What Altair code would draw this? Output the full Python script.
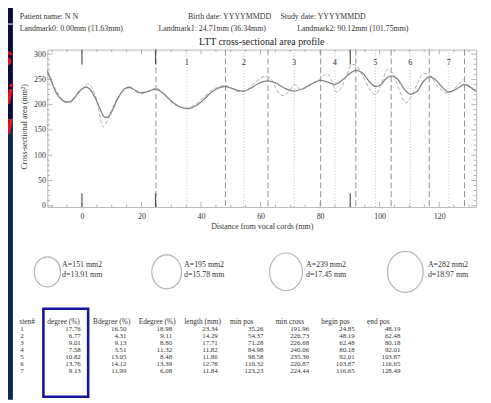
import altair as alt
import pandas as pd

# ---------------- data ----------------
smooth_mm = [-11.6, -10, -8.5, -7, -5.5, -4, -2.5, -1, 0.5, 1.5, 3, 4.5, 6, 7.5, 8.5, 10, 11.5, 13, 14.5, 16,
             17.5, 19.5, 21.5, 23, 24.8, 26.5, 28.5, 30.5, 32.5, 35.3, 38, 40.5, 43, 45.5, 48, 50, 52, 54.4, 56.5, 59,
             62.4, 65, 68, 71.3, 74, 77, 80.2, 82.5, 85, 87.5, 90, 92, 94.5, 96.5, 98.6, 100.5, 102, 103.9, 106, 108,
             110.3, 112.5, 114.5, 116.6, 118.5, 120.5, 123.2, 125.5, 128.5, 130.5, 132.3]
smooth_area = [266, 242, 222, 211, 205, 206, 214, 226, 233, 235, 228, 213, 193, 176, 175, 186, 206, 222, 232, 234,
               230, 224, 225, 228, 231, 226, 216, 205, 197, 192, 197, 208, 222, 232, 236, 233, 229, 227, 232, 241,
               247, 243, 233, 227, 231, 241, 248, 245, 240, 249, 262, 268, 261, 246, 236, 240, 251, 257, 251, 233,
               221, 226, 244, 255, 251, 238, 225, 230, 240, 234, 226]

raw_mm = [-11.6, -9, -6, -4, -2, 0, 1.8, 3.5, 5, 6.5, 7.2, 8.5, 10, 12, 14, 15.8, 18, 20, 22.5, 25,
          27, 30, 33, 35.3, 38, 41, 44, 48, 50.5, 52.5, 55, 58, 61.5, 63.5, 65.5, 67.5, 69.5, 71.5, 73.5, 76,
          79, 82.5, 84, 85.5, 87, 89, 90.8, 92.5, 94.5, 96.5, 98.5, 100.5, 102.7, 104.5, 106.5, 108.8, 110.5, 112.5,
          114.8, 117, 119, 121, 122.5, 124.5, 126.5, 128, 130, 132.3]
raw_area = [268, 232, 208, 204, 216, 230, 241, 232, 208, 165, 156, 168, 190, 213, 228, 236, 226, 222, 227, 233,
            224, 205, 195, 193, 200, 215, 230, 238, 232, 226, 228, 243, 256, 251, 228, 218, 226, 240, 230, 236,
            247, 261, 245, 225, 232, 260, 280, 275, 255, 232, 220, 240, 270, 262, 230, 204, 215, 240,
            262, 258, 240, 228, 223, 228, 240, 249, 238, 228]

landmarks = [0.0, 24.71, 90.12]
landmark_offset = 11.63

sten = [1, 2, 3, 4, 5, 6, 7]
degree = [17.76, 6.77, 9.01, 7.58, 10.82, 13.76, 9.13]
bdegree = [16.50, 4.31, 9.13, 3.51, 13.05, 14.12, 11.99]
edegree = [18.98, 9.11, 8.80, 11.32, 8.48, 13.39, 6.08]
length_mm = [23.34, 14.29, 17.71, 11.82, 11.86, 12.78, 11.84]
min_pos = [35.26, 54.37, 71.28, 84.98, 98.58, 110.32, 123.23]
min_cross = [191.96, 226.73, 226.68, 240.06, 235.36, 220.87, 224.44]
begin_pos = [24.85, 48.19, 62.48, 80.18, 92.01, 103.87, 116.65]
end_pos = [48.19, 62.48, 80.18, 92.01, 103.87, 116.65, 128.49]

ref_area = [151, 195, 239, 282]
ref_diam = [13.91, 15.78, 17.45, 18.97]

x_major = [0, 20, 40, 60, 80, 100, 120]
x_minor = [-10, -5, 5, 10, 15, 25, 30, 35, 45, 50, 55, 65, 70, 75, 85, 90, 95, 105, 110, 115, 125, 130]
y_major = [0, 50, 100, 150, 200, 250, 300]
y_minor = [10, 20, 30, 40, 60, 70, 80, 90, 110, 120, 130, 140, 160, 170, 180, 190,
           210, 220, 230, 240, 260, 270, 280, 290]

# ---------------- layout ----------------
FONT = "Liberation Serif"
W, H = 436, 160
PADL, PADT = 40, 39
PADR, PADB = 491 - 8 - PADL - W, 403 - 8 - PADT - H


def px(page_x):
    return page_x - 8 - PADL


def py(page_y):
    return page_y - 8 - PADT


one = pd.DataFrame({"k": [0]})

xs = alt.Scale(domain=[-11.63, 132.4], nice=False, zero=False)
ys = alt.Scale(domain=[-2.5, 309], nice=False, zero=False)

xaxis = alt.Axis(values=x_major, ticks=False, domain=False, grid=False, labelFont=FONT, labelFontSize=8,
                 labelColor="#333333", labelPadding=5.5, title="Distance from vocal cords (mm)",
                 titleFont=FONT, titleFontSize=8, titleFontWeight="normal", titleColor="#333333",
                 titleX=W / 2, titleY=20, titleBaseline="middle", titleAlign="center")
yaxis = alt.Axis(values=y_major, ticks=False, domain=False, grid=False, labelFont=FONT, labelFontSize=8,
                 labelColor="#333333", labelPadding=2, labelBaseline="middle",
                 title="Cross-sectional area (mm²)", titleFont=FONT, titleFontSize=8,
                 titleFontWeight="normal", titleColor="#333333", titleX=-23, titleY=78,
                 titleBaseline="middle", titleAlign="center")


def X(field="x"):
    return alt.X(f"{field}:Q", scale=xs, axis=xaxis)


def Y(field="y"):
    return alt.Y(f"{field}:Q", scale=ys, axis=yaxis)


df_s = pd.DataFrame({"x": smooth_mm, "y": smooth_area})
df_r = pd.DataFrame({"x": raw_mm, "y": raw_area})
df_bound = pd.DataFrame({"x": sorted(set(begin_pos + end_pos))})
df_min = pd.DataFrame({"x": min_pos, "seg": sten})
df_lm = pd.DataFrame({"x": landmarks})

tick_col = "#a0a0a0"
layers = []
for vals, ln in [(x_major, 5), (x_minor, 2.5)]:
    d = pd.DataFrame({"x": vals})
    layers.append(alt.Chart(d).mark_rule(color=tick_col, strokeWidth=0.8).encode(
        x=X(), y=alt.value(H), y2=alt.value(H - ln)))
    layers.append(alt.Chart(d).mark_rule(color=tick_col, strokeWidth=0.8).encode(
        x=X(), y=alt.value(0), y2=alt.value(ln)))
for vals, ln in [(y_major, 5), (y_minor, 2.5)]:
    d = pd.DataFrame({"y": vals})
    layers.append(alt.Chart(d).mark_rule(color=tick_col, strokeWidth=0.8).encode(
        y=Y(), x=alt.value(0), x2=alt.value(ln)))
    layers.append(alt.Chart(d).mark_rule(color=tick_col, strokeWidth=0.8).encode(
        y=Y(), x=alt.value(W), x2=alt.value(W - ln)))

layers += [
    alt.Chart(df_min).mark_rule(color="#b4b4b4", strokeWidth=0.9, strokeDash=[1, 2]).encode(x=X()),
    alt.Chart(df_bound).mark_rule(color="#8e8e8e", strokeWidth=1, strokeDash=[6, 3]).encode(x=X()),
    alt.Chart(df_lm).mark_rule(color="#555555", strokeWidth=1.2).encode(x=X(), y=alt.value(0), y2=alt.value(15)),
    alt.Chart(df_lm).mark_rule(color="#555555", strokeWidth=1.2).encode(x=X(), y=alt.value(H), y2=alt.value(H - 14)),
    alt.Chart(df_r).mark_line(color="#adadad", strokeWidth=1, strokeDash=[4, 2], interpolate="monotone").encode(x=X(), y=Y()),
    alt.Chart(df_s).mark_line(color="#858585", strokeWidth=1.3, interpolate="monotone").encode(x=X(), y=Y()),
    alt.Chart(df_min).mark_text(font=FONT, fontSize=8.5, color="#333333", baseline="middle").encode(
        x=X(), y=alt.value(13), text="seg:N"),
]
main = alt.layer(*layers)

# ---------------- slide strip on the left ----------------
bg = [
    alt.Chart(one).mark_rect(color="#0b0d3e").encode(
        x=alt.value(px(0)), x2=alt.value(px(13)), y=alt.value(py(0)), y2=alt.value(py(118))),
    alt.Chart(one).mark_rect(color="#0c2a50").encode(
        x=alt.value(px(0)), x2=alt.value(px(13)), y=alt.value(py(118)), y2=alt.value(py(403))),
    alt.Chart(one).mark_rule(color="#d8dcf4", strokeWidth=1.2).encode(
        x=alt.value(px(0)), x2=alt.value(px(13)), y=alt.value(py(21))),
    alt.Chart(one).mark_rule(color="#6f86b8", strokeWidth=1).encode(
        x=alt.value(px(0)), x2=alt.value(px(13)), y=alt.value(py(118))),
]
for txt, yy in [("s", 56), ("li", 94), ("u", 125)]:
    bg.append(alt.Chart(one).mark_text(font="Liberation Sans", fontWeight="bold", fontStyle="italic",
                                       fontSize=28, color="#e3121b", align="right").encode(
        x=alt.value(px(13)), y=alt.value(py(yy)), text=alt.value(txt)))

# ---------------- header ----------------
lm_text = [f"Landmark{i}: {v:.2f}mm ({v + landmark_offset:.2f}mm)" for i, v in enumerate(landmarks)]
header = []
for txt, hx, hy in [("Patient name: N N", 20, 14), ("Birth date: YYYYMMDD", 191, 14),
                    ("Study date: YYYYMMDD", 285, 14),
                    (lm_text[0], 20, 26), (lm_text[1], 161, 26), (lm_text[2], 302, 26)]:
    header.append(alt.Chart(one).mark_text(font=FONT, fontSize=8, color="#333333", align="left",
                                           baseline="middle").encode(
        x=alt.value(px(hx)), y=alt.value(py(hy)), text=alt.value(txt)))
header.append(alt.Chart(one).mark_text(font=FONT, fontSize=10, color="#222222", align="center",
                                       baseline="middle").encode(
    x=alt.value(W / 2), y=alt.value(py(39)), text=alt.value("LTT cross-sectional area profile")))

# ---------------- reference circles ----------------
df_c = pd.DataFrame({"A": ref_area, "d": ref_diam})
df_c["la"] = [f"A={a} mm2" for a in ref_area]
df_c["ld"] = [f"d={d:.2f} mm" for d in ref_diam]
ELLIPSE = "M -0.87 0 A 0.87 1 0 1 0 0.87 0 A 0.87 1 0 1 0 -0.87 0 Z"
circles = [
    alt.Chart(df_c).mark_point(shape=ELLIPSE, filled=False, color="#b4b4b4", strokeWidth=1.2, opacity=1).encode(
        x=alt.X("A:O", scale=alt.Scale(type="point", range=[0, 364], padding=0), axis=None),
        y=alt.value(py(273)),
        size=alt.Size("d:Q", scale=alt.Scale(type="pow", exponent=2, domain=[0, 20], range=[0, 44 ** 2]),
                      legend=None)),
]
for fld, hy in [("la", 266), ("ld", 276)]:
    circles.append(alt.Chart(df_c).mark_text(font=FONT, fontSize=8, color="#333333", align="left",
                                             baseline="middle").encode(
        x=alt.X("A:O", scale=alt.Scale(type="point", range=[15, 387], padding=0), axis=None),
        y=alt.value(py(hy)), text=f"{fld}:N"))

# ---------------- table ----------------
cols = ["degree (%)", "Bdegree (%)", "Edegree (%)", "length (mm)", "min pos", "min cross", "begin pos", "end pos"]
col_vals = [degree, bdegree, edegree, length_mm, min_pos, min_cross, begin_pos, end_pos]
df_t = pd.DataFrame([{"col": c, "sten": s, "v": v} for c, vals in zip(cols, col_vals) for s, v in zip(sten, vals)])
df_h = pd.DataFrame({"col": cols})
df_sten = pd.DataFrame({"sten": sten})
col_scale = alt.Scale(type="point", domain=cols, range=[34, 359], padding=0)
row_scale = alt.Scale(type="point", domain=sten, range=[py(330.7), py(374)], padding=0)
TF = 7
table = [
    alt.Chart(df_t).mark_text(font=FONT, fontSize=TF, color="#333333", align="right", baseline="middle").encode(
        x=alt.X("col:N", scale=col_scale, axis=None), y=alt.Y("sten:O", scale=row_scale, axis=None),
        text=alt.Text("v:Q", format=".2f")),
    alt.Chart(df_h).mark_text(font=FONT, fontSize=7.5, color="#333333", align="left", baseline="middle", dx=-34).encode(
        x=alt.X("col:N", scale=col_scale, axis=None), y=alt.value(py(323.5)), text="col:N"),
    alt.Chart(df_sten).mark_text(font=FONT, fontSize=TF, color="#333333", align="left", baseline="middle").encode(
        x=alt.value(px(20.5)), y=alt.Y("sten:O", scale=row_scale, axis=None), text="sten:N"),
    alt.Chart(one).mark_text(font=FONT, fontSize=7.5, color="#333333", align="left", baseline="middle").encode(
        x=alt.value(px(19.5)), y=alt.value(py(323.5)), text=alt.value("sten#")),
    alt.Chart(one).mark_rect(fill="transparent", stroke="#1515a0", strokeWidth=2.6).encode(
        x=alt.value(px(44)), x2=alt.value(px(89.5)), y=alt.value(py(310.5)), y2=alt.value(py(400))),
]

chart = alt.layer(*bg, main, *header, *circles, *table).resolve_scale(
    x="independent", y="independent"
).properties(
    width=W, height=H,
    padding={"left": PADL, "top": PADT, "right": PADR, "bottom": PADB},
    autosize=alt.AutoSizeParams(type="none"),
    background="white",
).configure_view(stroke="#b8b8b8", strokeWidth=1)

chart.save("out.html", embed_options={"renderer": "svg", "actions": False})
